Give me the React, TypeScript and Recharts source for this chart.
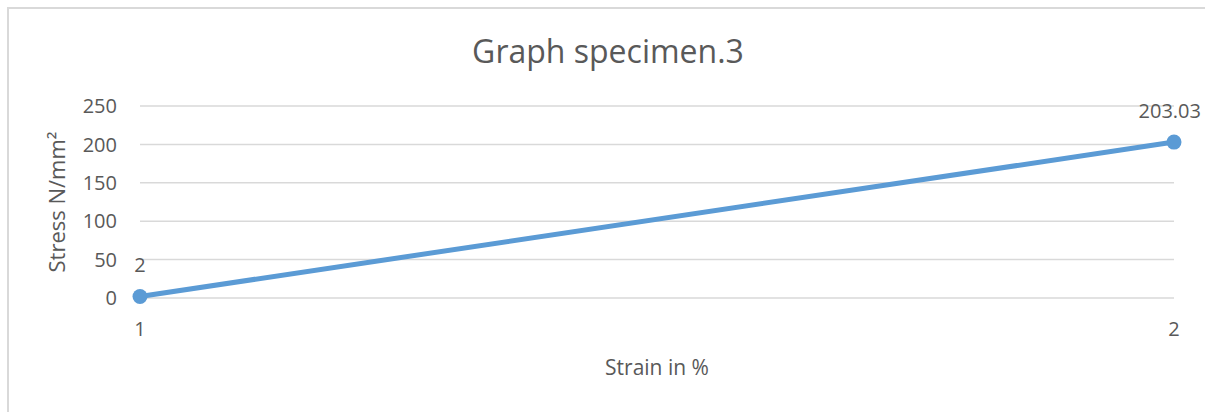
import React from "react";
import { LineChart, Line, XAxis, YAxis, CartesianGrid, LabelList } from "recharts";

// strain categories and measured stress for specimen 3
const strain = ["1", "2"];
const stress = [2, 203.03];
const stressTicks = [0, 50, 100, 150, 200, 250];

const W = 1205;
const H = 412;
const font = "'Open Sans', sans-serif";
const textColor = "#595959";

const data = strain.map((s, i) => ({ strain: s, stress: stress[i] }));

function ValueLabel(props: any) {
  const { x, y, value } = props;
  const text = String(value);
  // keep the label inside the chart frame at the right edge
  const halfW = text.length * 5.6;
  const overflow = x + halfW > W - 4;
  return (
    <text
      x={overflow ? W - 4 : x}
      y={y - 24}
      textAnchor={overflow ? "end" : "middle"}
      fill={textColor}
      fontSize={20}
      fontFamily={font}
    >
      {text}
    </text>
  );
}

export default function App() {
  return (
    <div style={{ position: "absolute", left: 0, top: 0, width: W, height: H, background: "#fff", overflow: "hidden" }}>
      <div
        style={{
          position: "absolute",
          left: 7,
          top: 7,
          width: W - 7,
          height: H - 7,
          borderTop: "2px solid #d9d9d9",
          borderLeft: "2px solid #d9d9d9",
          boxSizing: "border-box",
        }}
      />
      <div
        style={{
          position: "absolute",
          left: 0,
          width: W,
          paddingLeft: 11,
          boxSizing: "border-box",
          top: 35,
          textAlign: "center",
          fontFamily: font,
          fontSize: 32,
          lineHeight: "32px",
          color: textColor,
        }}
      >
        Graph specimen.3
      </div>
      <div style={{ position: "absolute", left: 0, top: 0 }}>
        <LineChart width={W} height={H} data={data} margin={{ top: 106, right: 31, bottom: 0, left: 0 }}>
          <CartesianGrid vertical={false} stroke="#d9d9d9" strokeWidth={1.5} />
          <XAxis
            dataKey="strain"
            height={114}
            axisLine={false}
            tickLine={false}
            tickSize={0}
            tickMargin={24}
            tick={{ fill: textColor, fontSize: 20, fontFamily: font }}
            label={(p: any) => {
              const vb = p.viewBox;
              return (
                <text
                  x={vb.x + vb.width / 2}
                  y={vb.y + 77}
                  textAnchor="middle"
                  fill={textColor}
                  fontSize={21}
                  fontFamily={font}
                >
                  Strain in %
                </text>
              );
            }}
          />
          <YAxis
            width={140}
            domain={[0, 250]}
            ticks={stressTicks}
            axisLine={false}
            tickLine={false}
            tickSize={0}
            tickMargin={23}
            tick={{ fill: textColor, fontSize: 20, fontFamily: font }}
            label={(p: any) => {
              const vb = p.viewBox;
              const cx = vb.x + 65;
              const cy = vb.y + vb.height / 2;
              return (
                <text
                  x={cx}
                  y={cy}
                  transform={`rotate(-90 ${cx} ${cy})`}
                  textAnchor="middle"
                  fill={textColor}
                  fontSize={22}
                  fontFamily={font}
                >
                  Stress N/mm²
                </text>
              );
            }}
          />
          <Line
            type="linear"
            dataKey="stress"
            stroke="#5b9bd5"
            strokeWidth={5}
            dot={{ r: 7.5, fill: "#5b9bd5", stroke: "#5b9bd5", strokeWidth: 0 }}
            isAnimationActive={false}
          >
            <LabelList dataKey="stress" content={<ValueLabel />} />
          </Line>
        </LineChart>
      </div>
    </div>
  );
}
